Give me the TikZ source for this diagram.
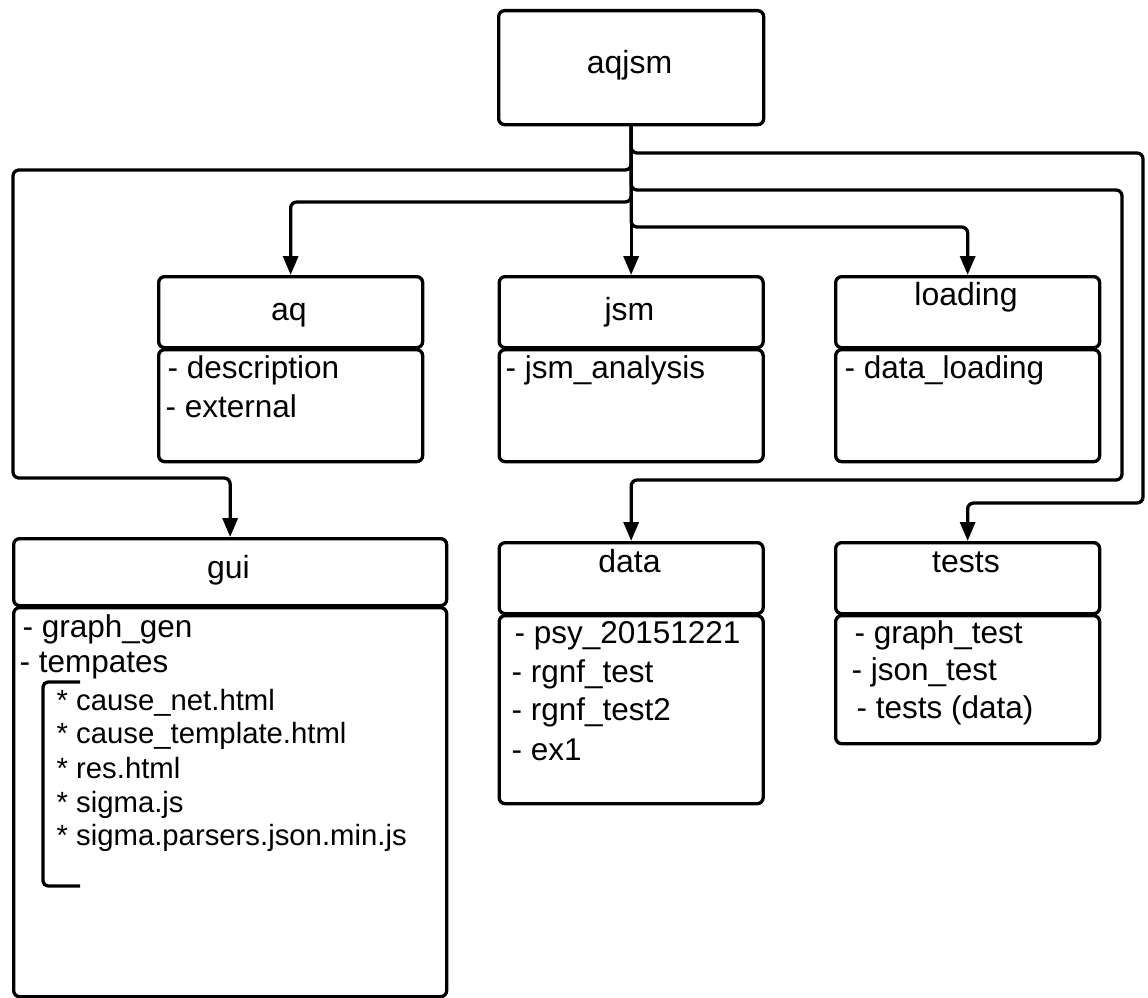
\documentclass[tikz,border=0pt]{standalone}
\usepackage{fontspec}
\setmainfont{Liberation Sans}
\usetikzlibrary{arrows.meta}
\begin{document}
\begin{tikzpicture}[x=1pt,y=-1pt,
  line width=3.3pt,
  box/.style={draw, rounded corners=6pt, inner sep=0pt, anchor=north west},
  title/.style={anchor=base, font=\fontsize{32}{38}\selectfont, inner sep=0pt},
  item/.style={anchor=base west, font=\fontsize{31.5}{38}\selectfont, inner sep=0pt},
  subitem/.style={anchor=base west, font=\fontsize{29.3}{34}\selectfont, inner sep=0pt},
  conn/.style={draw, rounded corners=6pt, -{Triangle[length=19pt,width=15pt]}},
]
\useasboundingbox (0,0) rectangle (1148,998);

% root
\node[box, minimum width=265, minimum height=114] (aqjsm) at (497,9) {};
\node[title] (aqjsmt) at (629.5,74) {aqjsm};

% aq
\node[box, minimum width=264, minimum height=71] (aqh) at (157,275) {};
\node[box, minimum width=264, minimum height=112] (aqb) at (157,348) {};
\node[title] (aqt) at (289,320) {aq};
\node[item] (aq1) at (166,378) {- description};
\node[item] (aq2) at (164,417) {- external};

% jsm
\node[box, minimum width=264, minimum height=71] (jsmh) at (497.5,275) {};
\node[box, minimum width=264, minimum height=112] (jsmb) at (497.5,348) {};
\node[title] (jsmt) at (629.5,320) {jsm};
\node[item] (jsm1) at (504,378) {- jsm\_analysis};

% loading
\node[box, minimum width=264, minimum height=71] (loadh) at (834,275) {};
\node[box, minimum width=264, minimum height=112] (loadb) at (834,348) {};
\node[title] (loadt) at (966,305) {loading};
\node[item] (load1) at (843,378) {- data\_loading};

% gui
\node[box, minimum width=433, minimum height=67] (guih) at (12,537) {};
\node[box, minimum width=433, minimum height=389] (guib) at (12,606) {};
\node[title] (guit) at (228.5,578) {gui};
\node[item] (gui1) at (21,637) {- graph\_gen};
\node[item] (gui2) at (18,672) {- tempates};
\node[subitem] (gui3) at (55,710) {* cause\_net.html};
\node[subitem] (gui4) at (55,743) {* cause\_template.html};
\node[subitem] (gui5) at (55,778) {* res.html};
\node[subitem] (gui6) at (55,812) {* sigma.js};
\node[subitem] (gui7) at (55,845) {* sigma.parsers.json.min.js};
\draw[rounded corners=5pt] (80,682) -- (43,682) -- (43,886) -- (80,886);

% data
\node[box, minimum width=264, minimum height=71] (datah) at (497.5,541) {};
\node[box, minimum width=264, minimum height=188] (datab) at (497.5,614) {};
\node[title] (datat) at (629.5,572) {data};
\node[item] (data1) at (513,643) {- psy\_20151221};
\node[item] (data2) at (510,682) {- rgnf\_test};
\node[item] (data3) at (510,720) {- rgnf\_test2};
\node[item] (data4) at (510,760) {- ex1};

% tests
\node[box, minimum width=264, minimum height=71] (testsh) at (834,541) {};
\node[box, minimum width=264, minimum height=128] (testsb) at (834,614) {};
\node[title] (testst) at (966,572) {tests};
\node[item] (tests1) at (853,643) {- graph\_test};
\node[item] (tests2) at (850,680) {- json\_test};
\node[item] (tests3) at (855,718) {- tests (data)};

% connectors
\draw[conn] (aqjsm.south) -- (jsmh.north);
\draw[conn] (aqjsm.south) -- (aqjsm.south |- 0,202) -| (aqh.north);
\draw[conn] (aqjsm.south) -- (aqjsm.south |- 0,227) -| (loadh.north);
\draw[conn] (aqjsm.south) -- (aqjsm.south |- 0,170) -- (13,170) -- (13,478) -| (guih.north);
\draw[conn] (aqjsm.south) -- (aqjsm.south |- 0,190) -- (1122,190) -- (1122,480) -| (datah.north);
\draw[conn] (aqjsm.south) -- (aqjsm.south |- 0,153) -- (1143,153) -- (1143,503) -| (testsh.north);
\end{tikzpicture}
\end{document}
